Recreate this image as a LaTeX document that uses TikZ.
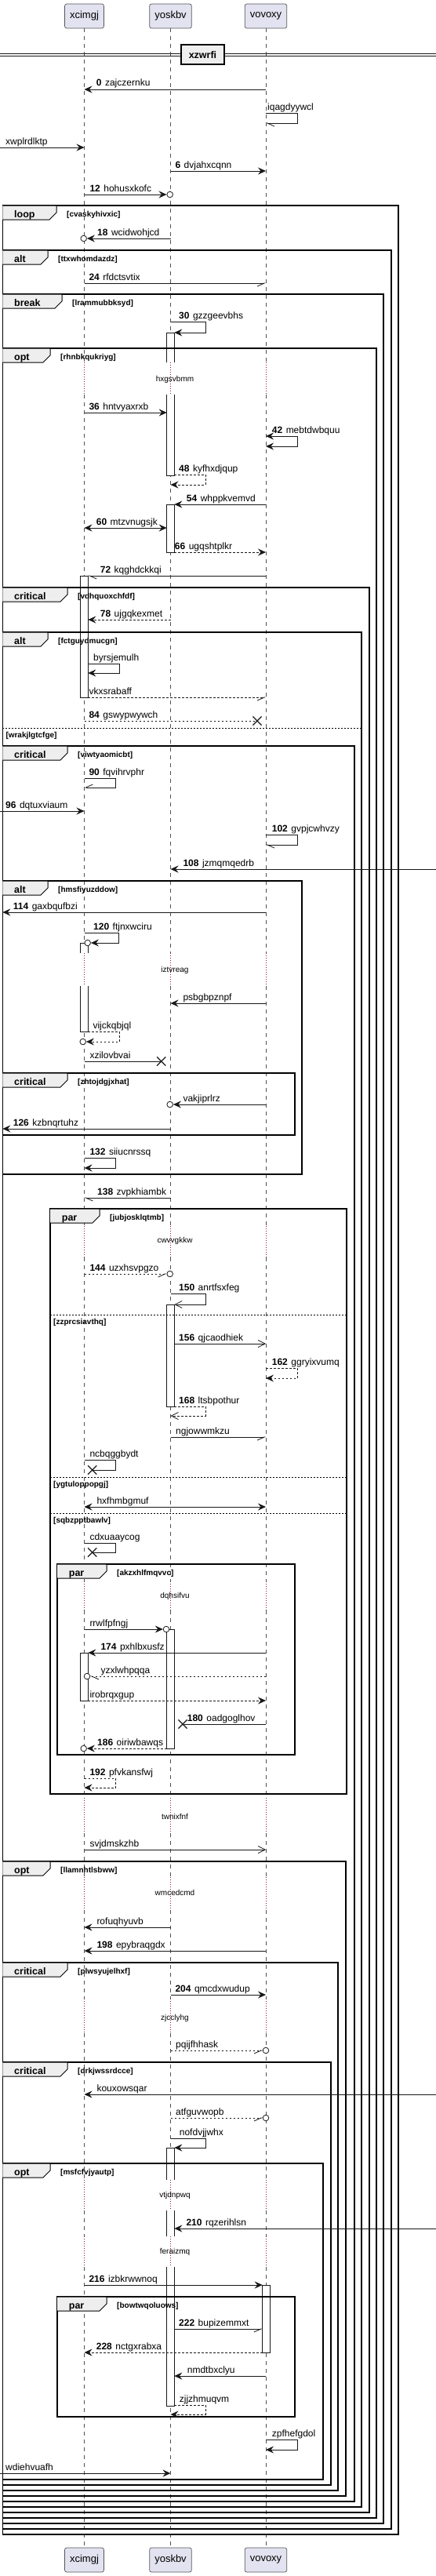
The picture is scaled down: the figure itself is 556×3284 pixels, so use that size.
\documentclass[tikz,border=0pt]{standalone}
\usepackage{fontspec}
\setmainfont{Liberation Sans}
\usetikzlibrary{arrows.meta,shapes.misc}

\definecolor{ink}{HTML}{181818}
\definecolor{partfill}{HTML}{E2E2F0}
\definecolor{partline}{HTML}{555555}
\definecolor{tabfill}{HTML}{EEEEEE}
\definecolor{pausecol}{HTML}{8B1A3A}

\newcommand{\nb}[1]{\textbf{#1}\hspace{4.5pt}}
% name, left, top, right, bottom, tab right, kind, guard
\newcommand{\seqframe}[8]{%
  \draw[frame] (#2,#3) rectangle (#4,#5);
  \filldraw[tab] (#2,#3) -- (#6,#3) -- (#6,#3+9) -- (#6-9,#3+18) -- (#2,#3+18);
  \node[kind] (#1) at (#2+14.7,#3+15) {#7};
  \node[guard] (#1g) at (#6+13,#3+14) {[#8]};
}
% name, left, right, y, guard
\newcommand{\seqelse}[5]{%
  \draw[elseline] (#2,#4) -- (#3,#4);
  \node[guard] (#1) at (#2+4,#4+12.5) {[#5]};
}

\begin{document}
\begin{tikzpicture}[x=1pt, y=-1pt,
  part/.style={draw=partline, fill=partfill, rounded corners=2.5pt, line width=0.7pt, minimum height=31pt, inner xsep=6.5pt, font=\fontsize{13}{15}\selectfont},
  life/.style={draw=ink!75, line width=0.5pt, dash pattern=on 5pt off 5pt},
  pause/.style={draw=pausecol, line width=0.6pt, dash pattern=on 0.8pt off 2.2pt},
  act/.style={draw=ink, fill=white, line width=0.6pt},
  frame/.style={draw=black, line width=1.5pt},
  tab/.style={draw=black, fill=tabfill, line width=1pt},
  kind/.style={anchor=base west, inner sep=0pt, font=\bfseries\fontsize{12.5}{14}\selectfont},
  guard/.style={anchor=base west, inner sep=0pt, font=\bfseries\fontsize{10}{12}\selectfont},
  elseline/.style={draw=black, line width=0.8pt, dash pattern=on 2pt off 2pt},
  msg/.style={draw=ink, line width=0.8pt},
  dmsg/.style={msg, dash pattern=on 2.5pt off 2.5pt},
  fa/.style={-{Stealth[length=10pt,width=9pt,inset=3.5pt]}},
  oa/.style={-{Straight Barb[length=9pt,width=9pt]}},
  hl/.style={-{Straight Barb[left,length=9pt,width=8pt]}},
  hr/.style={-{Straight Barb[right,length=9pt,width=8pt]}},
  ba/.style={{Stealth[length=10pt,width=9pt,inset=3.5pt]}-{Stealth[length=10pt,width=9pt,inset=3.5pt]}},
  lbl/.style={anchor=base west, inner sep=0pt, font=\fontsize{12}{14}\selectfont},
  delay/.style={inner sep=0pt, font=\fontsize{10}{12}\selectfont},
  circ/.style={circle, draw=ink, fill=white, line width=0.8pt, minimum size=7.6pt, inner sep=0pt},
  xm/.style={cross out, draw=ink, line width=1.2pt, minimum size=10pt, inner sep=0pt}]

  \useasboundingbox (0,0) rectangle (556,3284);

  % Participants
  \node[part] (xc) at (107.5,20.5) {xcimgj};
  \node[part] (yo) at (217.5,20.5) {yoskbv};
  \node[part] (vo) at (339,20.5) {vovoxy};
  \node[part] (xcb) at (107.5,3263.5) {xcimgj};
  \node[part] (yob) at (217.5,3263.5) {yoskbv};
  \node[part] (vob) at (339,3263.5) {vovoxy};

  \coordinate (L) at (0,0);
  \coordinate (R) at (556,0);
  \coordinate (F) at (3.3,0);
  \coordinate (xcL) at (102.7,0);
  \coordinate (xcR) at (112.3,0);
  \coordinate (yoL) at (212.7,0);
  \coordinate (yoR) at (222.3,0);
  \coordinate (voL) at (334.7,0);
  \coordinate (voR) at (344.3,0);

  % Lifelines
  \foreach \p in {xc,yo,vo} {
    \foreach \a/\b in {36/462,503/1215,1257/1563,1603/2016,2053/2292,2337/2393,2435/2548,2592/2779,2818/2851,2890/3248}
      \draw[life] (\p |- 0,\a) -- (\p |- 0,\b);
    \foreach \a/\b in {462/503,1215/1257,1563/1603,2016/2053,2292/2337,2393/2435,2548/2592,2779/2818,2851/2890}
      \draw[pause] (\p |- 0,\a) -- (\p |- 0,\b);
  }

  % Activations
  \filldraw[act] (yoL |- 0,462) |- (yoR |- 0,424) -- (yoR |- 0,462);
  \filldraw[act] (yoL |- 0,503) |- (yoR |- 0,606) -- (yoR |- 0,503);
  \filldraw[act] (yoL |- 0,643) rectangle (yoR |- 0,704);
  \filldraw[act] (xcL |- 0,734) rectangle (xcR |- 0,889);
  \filldraw[act] (xcL |- 0,1215) |- (xcR |- 0,1202) -- (xcR |- 0,1215);
  \filldraw[act] (xcL |- 0,1257) |- (xcR |- 0,1315) -- (xcR |- 0,1257);
  \filldraw[act] (yoL |- 0,1663) rectangle (yoR |- 0,1793);
  \filldraw[act] (yoL |- 0,2077) rectangle (yoR |- 0,2229);
  \filldraw[act] (xcL |- 0,2107) rectangle (xcR |- 0,2168);
  \filldraw[act] (yoL |- 0,2779) |- (yoR |- 0,2738) -- (yoR |- 0,2779);
  \fill[white] (yoL |- 0,2818) rectangle (yoR |- 0,2851);
  \draw[act] (yoL |- 0,2818) -- (yoL |- 0,2851) (yoR |- 0,2818) -- (yoR |- 0,2851);
  \filldraw[act] (yoL |- 0,2890) |- (yoR |- 0,3067) -- (yoR |- 0,2890);
  \filldraw[act] (voL |- 0,2913) rectangle (voR |- 0,2999);

  % Frames
  \seqframe{f1}{3.3}{262}{508}{3231}{72}{loop}{cvaskyhivxic}
  \seqframe{f2}{3.3}{319}{499}{3224}{61}{alt}{ttxwhomdazdz}
  \seqframe{f3}{3.3}{375}{489}{3217}{79}{break}{lrammubbksyd}
  \seqframe{f4}{3.3}{444}{480}{3210}{64}{opt}{rhnbkqukriyg}
  \seqframe{f5}{3.3}{749}{471}{3203}{86}{critical}{vdhquoxchfdf}
  \seqframe{f6}{3.3}{806}{461}{3196}{61}{alt}{fctguydmucgn}
  \seqelse{e1}{3.3}{461}{928}{wrakjlgtcfge}
  \seqframe{f7}{3.3}{951}{452}{3189}{86}{critical}{viwtyaomicbt}
  \seqframe{f8}{3.3}{1123}{385}{1497}{61}{alt}{hmsfiyuzddow}
  \seqframe{f9}{3.3}{1368}{376}{1447}{86}{critical}{zhtojdgjxhat}
  \seqframe{f10}{64}{1541}{442}{2287}{127}{par}{jubjosklqtmb}
  \seqelse{e2}{64}{442}{1676}{zzprcsiavthq}
  \seqelse{e3}{64}{442}{1883}{ygtuloppopgj}
  \seqelse{e4}{64}{442}{1929}{sqbzpptbawlv}
  \seqframe{f11}{73}{1994}{376}{2237}{136}{par}{akzxhlfmqvvc}
  \seqframe{f12}{3.3}{2373}{441}{3182}{64}{opt}{llamnhtlsbww}
  \seqframe{f13}{3.3}{2502}{431}{3175}{86}{critical}{plwsyujelhxf}
  \seqframe{f14}{3.3}{2629}{422}{3168}{86}{critical}{drkjwssrdcce}
  \seqframe{f15}{3.3}{2758}{412}{3161}{64}{opt}{msfcfvjyautp}
  \seqframe{f16}{73}{2928}{376}{3081}{136}{par}{bowtwqoluows}

  % Divider
  \draw[msg] (L |- 0,68.5) -- (R |- 0,68.5) (L |- 0,71.7) -- (R |- 0,71.7);
  \node[draw=black, fill=tabfill, line width=1.5pt, minimum width=55pt, minimum height=25pt, inner sep=0pt, font=\bfseries\fontsize{12.5}{14}\selectfont] (div) at (258.5,69.5) {xzwrfi};

  % Delays
  \node[delay] (d1) at (223,484) {hxgsvbmm};
  \node[delay] (d2) at (223,1237) {iztvreag};
  \node[delay] (d3) at (223,1582) {cwvvgkkw};
  \node[delay] (d4) at (223,2035) {dqhsifvu};
  \node[delay] (d5) at (223,2316) {twnixfnf};
  \node[delay] (d6) at (223,2413) {wmcedcmd};
  \node[delay] (d7) at (223,2573) {zjcclyhg};
  \node[delay] (d8) at (223,2799) {vtjdnpwq};
  \node[delay] (d9) at (223,2871) {feraizmq};

  % Messages
  \draw[msg,fa] (vo |- 0,114) -- (xc |- 0,114);
  \node[lbl] (m0) at (122.7,110) {\nb{0}zajczernku};
  \draw[msg,hl] (vo |- 0,144) -- ++(40,0) -- ++(0,13) -- (vo |- 0,157);
  \node[lbl] (iqag) at (341,140) {iqagdyywcl};
  \draw[msg,fa] (L |- 0,188) -- (xc |- 0,188);
  \node[lbl] (xwpl) at (7,184) {xwplrdlktp};
  \draw[msg,fa] (yo |- 0,218) -- (vo |- 0,218);
  \node[lbl] (m6) at (223.3,214) {\nb{6}dvjahxcqnn};
  \node[circ] (c12) at (216.7,248) {};
  \draw[msg,fa] (xc |- c12) -- (c12);
  \node[lbl] (m12) at (114.3,244) {\nb{12}hohusxkofc};
  \node[circ] (c18) at (106.7,304) {};
  \draw[msg,fa] (yo |- c18) -- (c18);
  \node[lbl] (m18) at (124,300) {\nb{18}wcidwohjcd};
  \draw[msg,hr] (xc |- 0,361) -- (vo |- 0,361);
  \node[lbl] (m24) at (113.3,357) {\nb{24}rfdctsvtix};
  \draw[msg,fa] (yo |- 0,410) -- ++(44.5,0) -- ++(0,14) -- (yoR |- 0,424);
  \node[lbl] (m30) at (228,406) {\nb{30}gzzgeevbhs};
  \draw[msg,fa] (xc |- 0,526) -- (yoL |- 0,526);
  \node[lbl] (m36) at (113.3,522) {\nb{36}hntvyaxrxb};
  \draw[msg,ba] (vo |- 0,556) -- ++(40,0) -- ++(0,13) -- (vo |- 0,569);
  \node[lbl] (m42) at (346.7,552) {\nb{42}mebtdwbquu};
  \draw[dmsg,fa] (yoR |- 0,605) -- ++(39.7,0) -- ++(0,13) -- (yo |- 0,618);
  \node[lbl] (m48) at (228,601) {\nb{48}kyfhxdjqup};
  \draw[msg,fa] (vo |- 0,643) -- (yoR |- 0,643);
  \node[lbl] (m54) at (237.7,639) {\nb{54}whppkvemvd};
  \draw[msg,ba] (xc |- 0,673) -- (yoL |- 0,673);
  \node[lbl] (m60) at (122.7,669) {\nb{60}mtzvnugsjk};
  \draw[dmsg,fa] (yoR |- 0,704) -- (vo |- 0,704);
  \node[lbl] (m66) at (222.7,700) {\nb{66}ugqshtplkr};
  \draw[msg,hl] (vo |- 0,734) -- (xcR |- 0,734);
  \node[lbl] (m72) at (127.7,730) {\nb{72}kqghdckkqi};
  \draw[dmsg,fa] (yo |- 0,790) -- (xcR |- 0,790);
  \node[lbl] (m78) at (127.7,786) {\nb{78}ujgqkexmet};
  \draw[msg,fa] (xcR |- 0,846) -- ++(40,0) -- ++(0,12) -- (xcR |- 0,858);
  \node[lbl] (byrs) at (119,842) {byrsjemulh};
  \draw[dmsg,hr] (xcR |- 0,889) -- (vo |- 0,889);
  \node[lbl] (vkxs) at (113.3,885) {vkxsrabaff};
  \node[xm] (x84) at (328,919) {};
  \draw[dmsg] (xc |- x84) -- (x84.center);
  \node[lbl] (m84) at (113.3,915) {\nb{84}gswypwywch};
  \draw[msg,hr] (xc |- 0,992) -- ++(40,0) -- ++(0,12) -- (xc |- 0,1004);
  \node[lbl] (m90) at (113.3,988) {\nb{90}fqvihrvphr};
  \draw[msg,fa] (L |- 0,1034) -- (xc |- 0,1034);
  \node[lbl] (m96) at (7,1030) {\nb{96}dqtuxviaum};
  \draw[msg,hl] (vo |- 0,1064) -- ++(40,0) -- ++(0,13) -- (vo |- 0,1077);
  \node[lbl] (m102) at (346.7,1060) {\nb{102}gvpjcwhvzy};
  \draw[msg,fa] (R |- 0,1108) -- (yo |- 0,1108);
  \node[lbl] (m108) at (233.3,1104) {\nb{108}jzmqmqedrb};
  \draw[msg,fa] (vo |- 0,1163) -- (F |- 0,1163);
  \node[lbl] (m114) at (16.7,1159) {\nb{114}gaxbqufbzi};
  \node[circ] (c120) at (111.7,1202) {};
  \draw[msg,fa] (xc |- 0,1189) -- ++(44,0) -- ++(0,13) -- (c120);
  \node[lbl] (m120) at (119,1185) {\nb{120}ftjnxwciru};
  \draw[msg,fa] (vo |- 0,1279) -- (yo |- 0,1279);
  \node[lbl] (psbg) at (233.3,1275) {psbgbpznpf};
  \node[circ] (cvij) at (105.7,1328) {};
  \draw[dmsg,fa] (xcR |- 0,1315) -- ++(40,0) -- ++(0,13) -- (cvij);
  \node[lbl] (vijc) at (118.3,1311) {vijckqbjql};
  \node[xm] (xxzi) at (205.7,1353) {};
  \draw[msg] (xc |- xxzi) -- (xxzi.center);
  \node[lbl] (xzil) at (114.3,1349) {xzilovbvai};
  \node[circ] (cvak) at (216.7,1408) {};
  \draw[msg,fa] (vo |- cvak) -- (cvak);
  \node[lbl] (vakj) at (233.3,1404) {vakjiprlrz};
  \draw[msg,fa] (yo |- 0,1439) -- (F |- 0,1439);
  \node[lbl] (m126) at (16.7,1435) {\nb{126}kzbnqrtuhz};
  \draw[msg,fa] (xc |- 0,1476) -- ++(40,0) -- ++(0,13) -- (xc |- 0,1489);
  \node[lbl] (m132) at (114.3,1472) {\nb{132}siiucnrssq};
  \draw[msg,hl] (yo |- 0,1527) -- (xc |- 0,1527);
  \node[lbl] (m138) at (124,1523) {\nb{138}zvpkhiambk};
  \node[circ] (c144) at (216.7,1624) {};
  \draw[dmsg,hr] (xc |- c144) -- (c144);
  \node[lbl] (m144) at (114.3,1620) {\nb{144}uzxhsvpgzo};
  \draw[msg,oa] (yo |- 0,1649) -- ++(44.5,0) -- ++(0,14) -- (yoR |- 0,1663);
  \node[lbl] (m150) at (228,1645) {\nb{150}anrtfsxfeg};
  \draw[msg,oa] (yoR |- 0,1713) -- (vo |- 0,1713);
  \node[lbl] (m156) at (228,1709) {\nb{156}qjcaodhiek};
  \draw[dmsg,fa] (vo |- 0,1744) -- ++(40,0) -- ++(0,13) -- (vo |- 0,1757);
  \node[lbl] (m162) at (346.7,1740) {\nb{162}ggryixvumq};
  \draw[dmsg,oa] (yoR |- 0,1793) -- ++(39.7,0) -- ++(0,12) -- (yo |- 0,1805);
  \node[lbl] (m168) at (228,1789) {\nb{168}ltsbpothur};
  \draw[msg,hr] (yo |- 0,1832) -- (vo |- 0,1832);
  \node[lbl] (ngjo) at (224,1828) {ngjowwmkzu};
  \node[xm] (xncb) at (117.7,1874) {};
  \draw[msg] (xc |- 0,1861) -- ++(40,0) -- ++(0,13) -- (xncb.center);
  \node[lbl] (ncbq) at (114.3,1857) {ncbqggbydt};
  \draw[msg,ba] (xc |- 0,1921) -- (vo |- 0,1921);
  \node[lbl] (hxfh) at (123.3,1917) {hxfhmbgmuf};
  \node[xm] (xcdx) at (117.7,1979) {};
  \draw[msg] (xc |- 0,1967) -- ++(40,0) -- ++(0,12) -- (xcdx.center);
  \node[lbl] (cdxu) at (114.3,1963) {cdxuaaycog};
  \node[circ] (crrw) at (212,2077) {};
  \draw[msg,fa] (xc |- crrw) -- (crrw);
  \node[lbl] (rrwl) at (114.3,2073) {rrwlfpfngj};
  \draw[msg,fa] (vo |- 0,2107) -- (xcR |- 0,2107);
  \node[lbl] (m174) at (128.3,2103) {\nb{174}pxhlbxusfz};
  \node[circ] (cyzx) at (111,2137) {};
  \draw[dmsg,hl] (vo |- cyzx) -- (cyzx);
  \node[lbl] (yzxl) at (128.3,2133) {yzxlwhpqqa};
  \draw[dmsg,fa] (xcR |- 0,2168) -- (vo |- 0,2168);
  \node[lbl] (irob) at (114.3,2164) {irobrqxgup};
  \node[xm] (x180) at (233,2198) {};
  \draw[msg] (vo |- x180) -- (x180.center);
  \node[lbl] (m180) at (238.7,2194) {\nb{180}oadgoglhov};
  \node[circ] (c186) at (106.7,2229) {};
  \draw[dmsg,fa] (yoL |- c186) -- (c186);
  \node[lbl] (m186) at (124,2225) {\nb{186}oiriwbawqs};
  \draw[dmsg,fa] (xc |- 0,2267) -- ++(40,0) -- ++(0,12) -- (xc |- 0,2279);
  \node[lbl] (m192) at (114.3,2263) {\nb{192}pfvkansfwj};
  \draw[msg,oa] (xc |- 0,2358) -- (vo |- 0,2358);
  \node[lbl] (svjd) at (114.3,2354) {svjdmskzhb};
  \draw[msg,fa] (yo |- 0,2457) -- (xc |- 0,2457);
  \node[lbl] (rofu) at (123.3,2453) {rofuqhyuvb};
  \draw[msg,fa] (vo |- 0,2487) -- (xc |- 0,2487);
  \node[lbl] (m198) at (123.3,2483) {\nb{198}epybraqgdx};
  \draw[msg,fa] (yo |- 0,2543) -- (vo |- 0,2543);
  \node[lbl] (m204) at (223.3,2539) {\nb{204}qmcdxwudup};
  \node[circ] (cpqi) at (339,2614) {};
  \draw[dmsg,hr] (yo |- cpqi) -- (cpqi);
  \node[lbl] (pqij) at (224,2610) {pqijfhhask};
  \draw[msg,fa] (R |- 0,2670) -- (xc |- 0,2670);
  \node[lbl] (koux) at (123.3,2666) {kouxowsqar};
  \node[circ] (catf) at (339,2700) {};
  \draw[dmsg,hr] (yo |- catf) -- (catf);
  \node[lbl] (atfg) at (224,2696) {atfguvwopb};
  \draw[msg,fa] (yo |- 0,2726) -- ++(44.5,0) -- ++(0,12) -- (yoR |- 0,2738);
  \node[lbl] (nofd) at (228.7,2722) {nofdvjjwhx};
  \draw[msg,fa] (R |- 0,2841) -- (yoR |- 0,2841);
  \node[lbl] (m210) at (237.3,2837) {\nb{210}rqzerihlsn};
  \draw[msg,fa] (xc |- 0,2913) -- (voL |- 0,2913);
  \node[lbl] (m216) at (113.3,2909) {\nb{216}izbkrwwnoq};
  \draw[msg,hr] (yoR |- 0,2969) -- (voL |- 0,2969);
  \node[lbl] (m222) at (228,2965) {\nb{222}bupizemmxt};
  \draw[dmsg,fa] (voL |- 0,2999) -- (xc |- 0,2999);
  \node[lbl] (m228) at (122.7,2995) {\nb{228}nctgxrabxa};
  \draw[msg,fa] (vo |- 0,3029) -- (yoR |- 0,3029);
  \node[lbl] (nmdt) at (238.7,3025) {nmdtbxclyu};
  \draw[dmsg,fa] (yoR |- 0,3066) -- ++(39.7,0) -- ++(0,12) -- (yo |- 0,3078);
  \node[lbl] (zjjz) at (228.7,3062) {zjjzhmuqvm};
  \draw[msg,fa] (vo |- 0,3110) -- ++(40,0) -- ++(0,13) -- (vo |- 0,3123);
  \node[lbl] (zpfh) at (346.7,3106) {zpfhefgdol};
  \draw[msg,fa] (L |- 0,3153) -- (yo |- 0,3153);
  \node[lbl] (wdie) at (7,3149) {wdiehvuafh};

\end{tikzpicture}
\end{document}
